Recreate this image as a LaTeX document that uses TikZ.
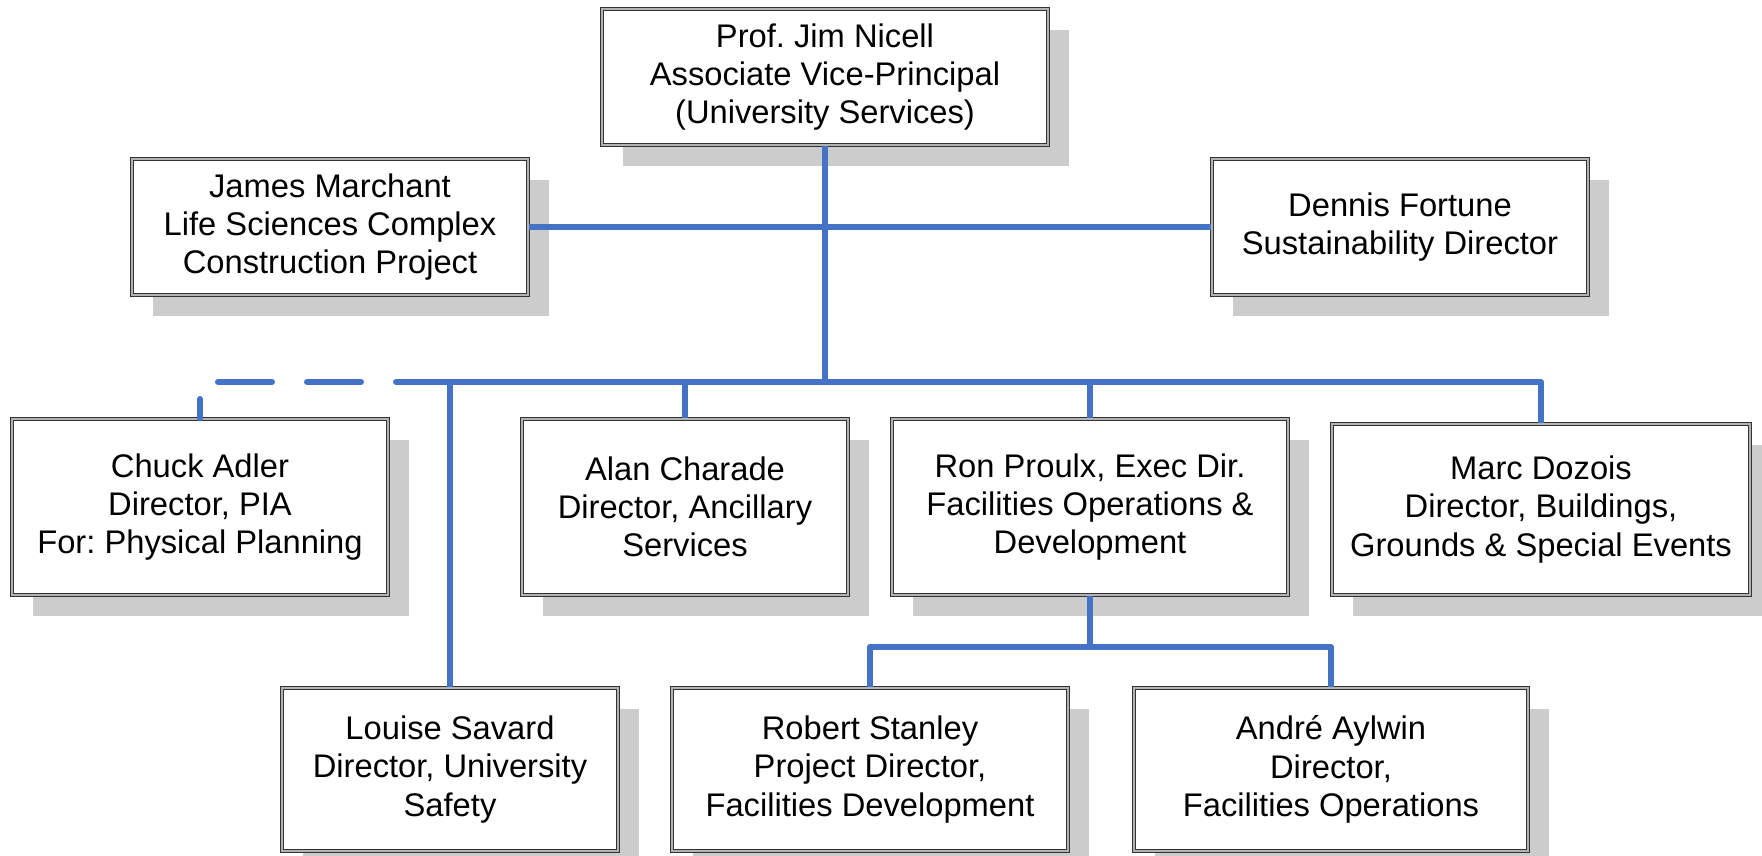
\documentclass[tikz,border=0pt]{standalone}
\usepackage{fontspec}
\setmainfont{Liberation Sans}
\usetikzlibrary{shadows}
\definecolor{linkblue}{HTML}{4472C4}
\frenchspacing

\begin{document}
\begin{tikzpicture}[x=1pt, y=-1pt,
  person/.style={draw=black!80, line width=1.1pt, double=black!30, double distance=1.6pt,
    fill=white, align=center, inner sep=0pt, font=\fontsize{32.7}{38.3}\selectfont,
    drop shadow={shadow xshift=21pt, shadow yshift=-21pt, fill=black!20, opacity=1}},
  link/.style={draw=linkblue, line width=6pt, line join=round}]

\useasboundingbox (0,0) rectangle (1762,856);

\node[person, minimum width=446, minimum height=136] (jim) at (825,77) {Prof. Jim Nicell\\Associate Vice-Principal\\(University Services)};
\node[person, minimum width=396, minimum height=136] (lsc) at (330,227) {James Marchant\\Life Sciences Complex\\Construction Project};
\node[person, minimum width=376, minimum height=136] (sus) at (1400,227) {Dennis Fortune\\Sustainability Director};

\node[person, minimum width=376, minimum height=176] (pia) at (200,507) {Chuck Adler\\Director, PIA\\For: Physical Planning};
\node[person, minimum width=326, minimum height=176] (anc) at (685,507) {Alan Charade\\Director, Ancillary\\Services};
\node[person, minimum width=396, minimum height=176] (fod) at (1090,507) {Ron Proulx, Exec Dir.\\Facilities Operations \&\\Development};
\node[person, minimum width=418, minimum height=171] (bgs) at (1541,509.5) {Marc Dozois\\Director, Buildings,\\Grounds \& Special Events};

\node[person, minimum width=336, minimum height=163] (saf) at (450,769.5) {Louise Savard\\Director, University\\Safety};
\node[person, minimum width=396, minimum height=163] (dev) at (870,769.5) {Robert Stanley\\Project Director,\\Facilities Development};
\node[person, minimum width=394, minimum height=163] (ops) at (1331,769.5) {Andr\'e Aylwin\\Director,\\Facilities Operations};

\coordinate (bus) at (0,382);
\coordinate (sub) at (0,647);

\draw[link] (lsc) -- (sus);
\draw[link] (jim.south) -- (jim.south |- bus);
\draw[link] (saf.north) -- (saf.north |- bus) -- (bgs.north |- bus) -- (bgs.north);
\foreach \n in {anc,fod} {\draw[link] (\n.north |- bus) -- (\n.north);}
\draw[link] (fod.south) -- (fod.south |- sub);
\draw[link] (dev.north) -- (dev.north |- sub) -- (ops.north |- sub) -- (ops.north);
\draw[link, line cap=round, dash pattern=on 54pt off 35pt] (saf.north |- bus) -- (pia.north |- bus) -- (pia.north);

\end{tikzpicture}
\end{document}
